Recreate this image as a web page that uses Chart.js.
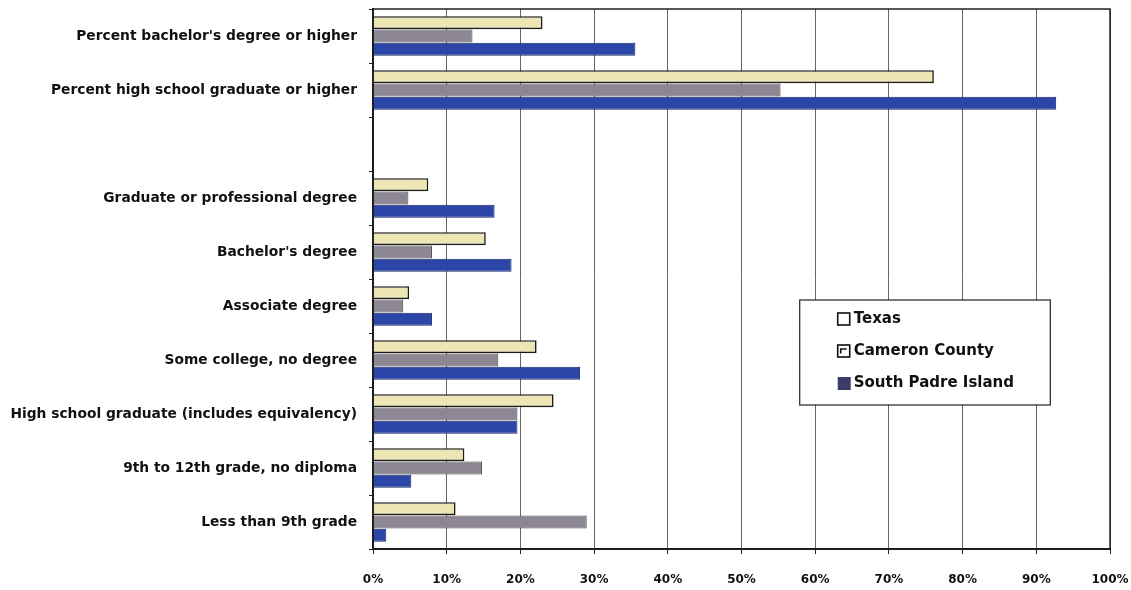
<!DOCTYPE html>
<html>
<head>
<meta charset="utf-8">
<script src="https://cdn.jsdelivr.net/npm/chart.js@4.4.1/dist/chart.umd.min.js"></script>
<style>
  html, body { margin: 0; padding: 0; background: #ffffff; }
  #wrap { width: 1131px; height: 590px; position: relative; }
</style>
</head>
<body>
<div id="wrap"><canvas id="chart" width="1131" height="590"></canvas></div>
<script>
// Educational attainment categories (empty entry is a spacer row)
const categories = [
  "Percent bachelor's degree or higher",
  "Percent high school graduate or higher",
  "",
  "Graduate or professional degree",
  "Bachelor's degree",
  "Associate degree",
  "Some college, no degree",
  "High school graduate (includes equivalency)",
  "9th to 12th grade, no diploma",
  "Less than 9th grade"
];

// Percent of population 25 years and over
const texas         = [23.0, 76.1, null, 7.5, 15.3, 4.9, 22.2, 24.5, 12.4, 11.2];
const cameronCounty = [13.5, 55.3, null, 4.8,  8.0, 4.1, 17.0, 19.6, 14.8, 29.0];
const southPadre    = [35.6, 92.7, null, 16.5, 18.8, 8.0, 28.1, 19.6,  5.2,  1.8];

const seriesNames = ["Texas", "Cameron County", "South Padre Island"];
const xTicks = [0, 10, 20, 30, 40, 50, 60, 70, 80, 90, 100];

const labelFont = { family: "'DejaVu Sans', sans-serif", size: 13.8, weight: "bold" };

// Frame around the plotting area
const frame = {
  id: "frame",
  afterDraw(chart) {
    const { ctx, chartArea: a } = chart;
    ctx.save();
    ctx.strokeStyle = "#222";
    ctx.lineWidth = 1.5;
    ctx.strokeRect(a.left, a.top, a.right - a.left, a.bottom - a.top);
    ctx.restore();
  }
};

// Boxed legend drawn inside the plot, to the right of the short bars
const boxLegend = {
  id: "boxLegend",
  afterDraw(chart) {
    const { ctx } = chart;
    const xs = chart.scales.x, ys = chart.scales.y;
    const left = xs.getPixelForValue(57.9);
    const right = xs.getPixelForValue(91.9);
    const top = ys.getPixelForValue(5) - 6;
    const bottom = ys.getPixelForValue(6) + 45;
    ctx.save();
    ctx.fillStyle = "#fff";
    ctx.fillRect(left, top, right - left, bottom - top);
    ctx.strokeStyle = "#222";
    ctx.lineWidth = 1.2;
    ctx.strokeRect(left, top, right - left, bottom - top);
    ctx.font = "bold 15px 'DejaVu Sans', sans-serif";
    ctx.textBaseline = "middle";
    chart.data.datasets.forEach((ds, i) => {
      const cy = top + 19 + i * 32;
      const sx = left + 38, s = 12;
      if (i === 0) {
        ctx.fillStyle = "#fff"; ctx.fillRect(sx, cy - s / 2, s, s);
        ctx.strokeStyle = "#111"; ctx.lineWidth = 1.6; ctx.strokeRect(sx, cy - s / 2, s, s);
      } else if (i === 1) {
        ctx.fillStyle = "#fff"; ctx.fillRect(sx, cy - s / 2, s, s);
        ctx.strokeStyle = "#111"; ctx.lineWidth = 1.6; ctx.strokeRect(sx, cy - s / 2, s, s);
        ctx.beginPath();
        ctx.moveTo(sx + 3, cy + 2.5); ctx.lineTo(sx + 3, cy - 2); ctx.lineTo(sx + 9, cy - 2);
        ctx.stroke();
      } else {
        ctx.fillStyle = "#3d3b68"; ctx.fillRect(sx, cy - s / 2, s + 1, s + 1);
      }
      ctx.fillStyle = "#111";
      ctx.fillText(ds.label, sx + s + 4, cy);
    });
    ctx.restore();
  }
};

new Chart(document.getElementById("chart"), {
  type: "bar",
  data: {
    labels: categories,
    datasets: [
      { label: seriesNames[0], data: texas, backgroundColor: "#ede6b4", borderColor: "#1a1a1a", borderWidth: 1.6 },
      { label: seriesNames[1], data: cameronCounty, backgroundColor: "#8c8792", borderColor: "#4a4650", borderWidth: 1 },
      { label: seriesNames[2], data: southPadre, backgroundColor: "#2b46a6", borderColor: "#1b2a6a", borderWidth: 1 }
    ]
  },
  options: {
    indexAxis: "y",
    responsive: false,
    animation: false,
    layout: { padding: { top: 9, right: 21, bottom: 0, left: 0 } },
    datasets: { bar: { categoryPercentage: 0.74, barPercentage: 0.98, borderSkipped: "left" } },
    plugins: { legend: { display: false }, tooltip: { enabled: false } },
    scales: {
      x: {
        min: 0, max: 100,
        afterBuildTicks(s) { s.ticks = xTicks.map(v => ({ value: v })); },
        afterFit(s) { s.height = 41; s.paddingLeft = 0; s.paddingRight = 0; },
        grid: { color: "#666", lineWidth: 1, tickLength: 5, tickColor: "#222" },
        border: { color: "#111", width: 2 },
        ticks: { color: "#111", font: { family: "'DejaVu Sans', sans-serif", size: 12, weight: "bold" }, padding: 19, callback: v => v + "%" }
      },
      y: {
        afterFit(s) { s.width = 373; s.paddingTop = 0; s.paddingBottom = 0; },
        grid: { offset: true, drawOnChartArea: false, tickLength: 4, tickColor: "#222" },
        border: { color: "#111", width: 2 },
        ticks: { color: "#111", font: labelFont, padding: 12, autoSkip: false }
      }
    }
  },
  plugins: [frame, boxLegend]
});
</script>
</body>
</html>
